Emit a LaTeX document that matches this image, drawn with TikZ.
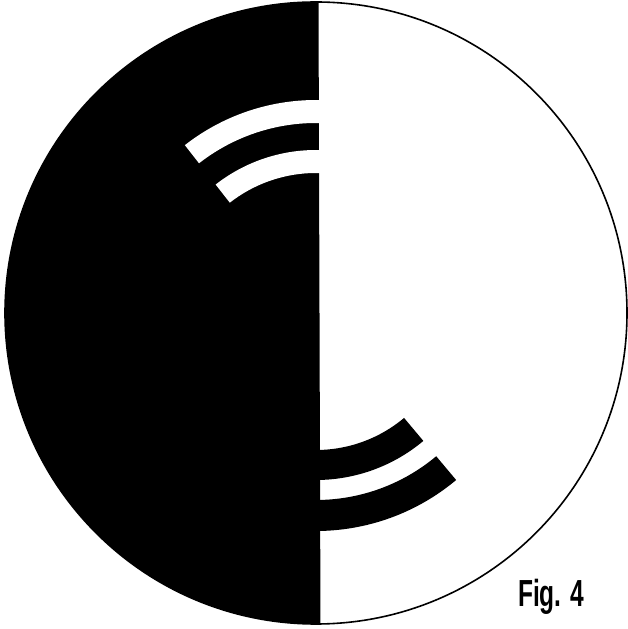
\documentclass[tikz,border=0pt]{standalone}
\usepackage{fontspec}
\setmainfont{Liberation Sans}
\usepackage{graphicx}
\tikzset{
  inkband/.style={fill=black},
  paperband/.style={fill=white},
  rim/.style={draw=black, line width=1.6pt}
}
\begin{document}
\begin{tikzpicture}[x=1pt,y=1pt]
  \fill[white] (0,0) rectangle (628,629);
  \useasboundingbox (0,0) rectangle (628,629);
  \coordinate (c) at (316,316);
  % black left half
  \begin{scope}
    \clip (c) circle[radius=311];
    \fill[black] (0,0) -- (320.5,0) -- (318.5,629) -- (0,629) -- cycle;
  \end{scope}
  \begin{scope}[shift={(316,316)}]
    % white bands on the black half (top)
    \path[paperband] (80:213) arc[start angle=80,end angle=128,radius=213]
      -- (128:190) arc[start angle=128,end angle=80,radius=190] -- cycle;
    \path[paperband] (80:163) arc[start angle=80,end angle=128,radius=163]
      -- (128:140) arc[start angle=128,end angle=80,radius=140] -- cycle;
    % black bands on the white half (bottom)
    \path[inkband] (-100:218) arc[start angle=-100,end angle=-50,radius=218]
      -- (-50:187) arc[start angle=-50,end angle=-100,radius=187] -- cycle;
    \path[inkband] (-100:167) arc[start angle=-100,end angle=-50,radius=167]
      -- (-50:137) arc[start angle=-50,end angle=-100,radius=137] -- cycle;
  \end{scope}
  \draw[rim] (c) circle[radius=311];
  \node[anchor=base west, inner sep=0pt] (fig) at (518,22)
    {\fontsize{37.7}{40}\selectfont\scalebox{0.65}[1]{\textbf{Fig. 4}}};
\end{tikzpicture}
\end{document}
